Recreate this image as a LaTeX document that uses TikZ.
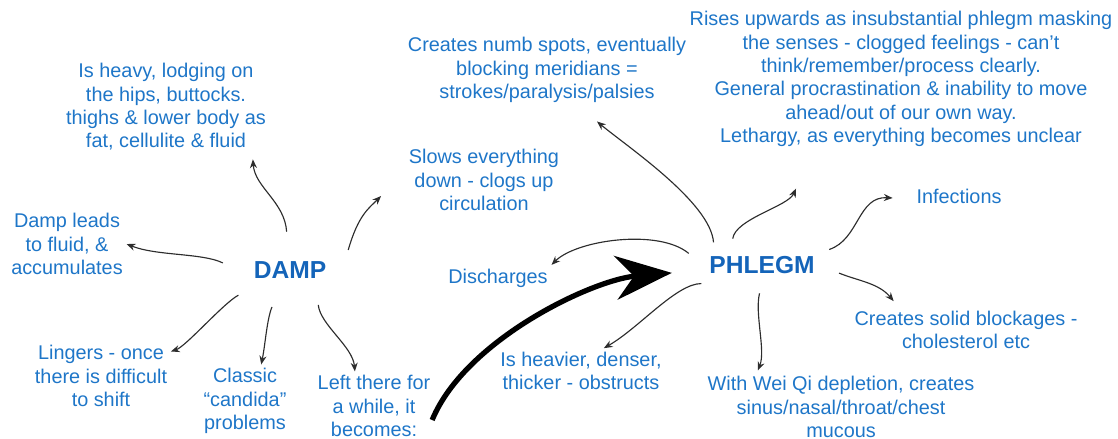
\documentclass[tikz,border=0pt]{standalone}
\usepackage{fontspec}
\setmainfont{Liberation Sans}
\usetikzlibrary{arrows.meta,shapes.geometric}

\definecolor{mapblue}{RGB}{30,118,200}
\definecolor{hubblue}{RGB}{20,100,185}
\definecolor{leadgrey}{RGB}{45,45,45}

\tikzset{
  txt/.style={text=mapblue, align=center, inner sep=2pt, font=\fontsize{11.3}{13.3}\selectfont},
  hub/.style={ellipse, inner sep=0pt, text=hubblue, font=\fontsize{14}{16}\selectfont\bfseries},
  arr/.style={draw=leadgrey, line width=0.65pt, -{Stealth[length=5pt,width=4pt]}},
  bigarr/.style={draw=black, line width=3pt, -{Stealth[length=32pt,width=25pt]}}
}

\begin{document}
\begin{tikzpicture}[x=0.02cm, y=-0.02cm]
            \useasboundingbox (0,0) rectangle (1118,439);

            \node[hub, minimum width=2.72cm, minimum height=1.52cm] (damp) at (290,270) {DAMP};
            \node[hub, minimum width=3.2cm, minimum height=1.12cm] (phlegm) at (762,265) {PHLEGM};

            \node[txt] (heavy) at (166,107) {Is heavy, lodging on\\the hips, buttocks.\\thighs \& lower body as\\fat, cellulite \& fluid};
            \node[txt] (leads) at (67,244) {Damp leads\\to fluid, \&\\accumulates};
            \node[txt] (lingers) at (101,376) {Lingers - once\\there is difficult\\to shift};
            \node[txt] (classic) at (245,401) {Classic\\``candida''\\problems};
            \node[txt] (left) at (374,406) {Left there for\\a while, it\\becomes:};
            \node[txt] (slows) at (484,180) {Slows everything\\down - clogs up\\circulation};

            \node[txt] (numb) at (547,70) {Creates numb spots, eventually\\blocking meridians =\\strokes/paralysis/palsies};
            \node[txt] (rises) at (901,79) {Rises upwards as insubstantial phlegm masking\\the senses - clogged feelings - can't\\think/remember/process clearly.\\General procrastination \& inability to move\\ahead/out of our own way.\\Lethargy, as everything becomes unclear};
            \node[txt] (infections) at (959,196) {Infections};
            \node[txt] (discharges) at (498,278) {Discharges};
            \node[txt] (solid) at (966,330) {Creates solid blockages -\\cholesterol etc};
            \node[txt] (heavier) at (581,371) {Is heavier, denser,\\thicker - obstructs};
            \node[txt] (wei) at (841,407) {With Wei Qi depletion, creates\\sinus/nasal/throat/chest\\mucous};

            \draw[arr] (damp.95) .. controls +(-2,-30) and +(2,28) .. ([shift={(8,5)}]heavy.-31); % damp-heavy
            \draw[arr] (damp.19) .. controls +(10,-35) and +(-12,12) .. ([shift={(-24,16)}]slows.west); % damp-slows
            \draw[arr] (damp.174) .. controls +(-20,-10) and +(30,12) .. (leads.east); % damp-leads
            \draw[arr] (damp.206) .. controls +(-15,8) and +(15,-5) .. ([shift={(0,10)}]lingers.north east); % damp-lingers
            \draw[arr] (damp.244) .. controls +(-5,12) and +(4,-20) .. (classic.66); % damp-classic
            \draw[arr] (damp.-51) .. controls +(2,20) and +(-2,-25) .. (left.119); % damp-left

            \draw[bigarr, shorten >=7pt] ([shift={(-2,14)}]left.east) .. controls +(33,-80) and +(-92,8) .. (phlegm.185); % left-phlegm

            \draw[arr] (phlegm.155) .. controls +(-3,-40) and +(30,25) .. ([shift={(50,15)}]numb.south); % phlegm-numb
            \draw[arr] (phlegm.171) .. controls +(-30,-25) and +(25,-25) .. (discharges.north east); % phlegm-discharges
            \draw[arr] (phlegm.197) .. controls +(-25,0) and +(35,-20) .. (heavier.45); % phlegm-heavier
            \draw[arr] (phlegm.138) .. controls +(3,-20) and +(-8,18) .. ([shift={(-105,38)}]rises.south); % phlegm-rises
            \draw[arr] (phlegm.13.6) .. controls +(30,-10) and +(-35,-2) .. ([shift={(-20,2)}]infections.west); % phlegm-infections
            \draw[arr] (phlegm.-6) .. controls +(20,8) and +(-15,-18) .. ([shift={(43,-6)}]solid.north west); % phlegm-solid
            \draw[arr] (phlegm.-95) .. controls +(-5,20) and +(8,-20) .. ([shift={(54,-2)}]wei.north west); % phlegm-wei
        \end{tikzpicture}
\end{document}
